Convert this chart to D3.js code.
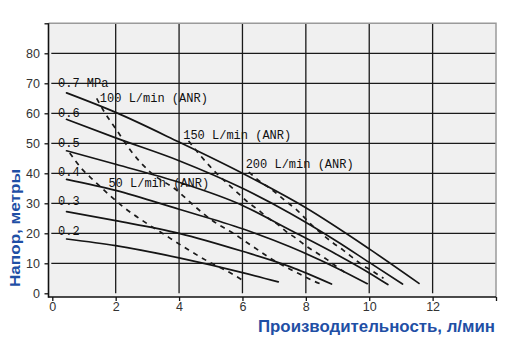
<!DOCTYPE html>
<html>
<head>
<meta charset="utf-8">
<script src="https://cdn.jsdelivr.net/npm/d3@7"></script>
<style>
  html, body { margin: 0; padding: 0; background: #fff; }
  svg { display: block; }
</style>
</head>
<body>
<svg id="chart" width="514" height="356"></svg>
<script>
// ---------- DATA ----------
const xTicks = [0, 2, 4, 6, 8, 10, 12, 14];
const yTicks = [0, 10, 20, 30, 40, 50, 60, 70, 80, 90];
const pressureLabels = ["0.7 MPa", "0.6", "0.5", "0.4", "0.3", "0.2"];
// pressure curves: [flow l/min, head m]
const p07 = [[0.45, 66.8], [2, 60.3], [4, 50.4], [6, 40], [8, 28.5], [10, 14.8], [11.57, 3.3]];
const p06 = [[0.45, 58], [2, 51.8], [4, 44.2], [6, 35], [7.5, 26.7], [9, 17.2], [10, 10.3], [11.05, 3.1]];
const p05 = [[0.45, 47.5], [2, 43], [4, 37], [6, 29.3], [7.5, 21.1], [9, 12.8], [10, 6.8], [10.59, 2.9]];
const p04 = [[0.45, 38], [2, 34.3], [4, 28], [6, 21.5], [7.5, 15.5], [9, 8.3], [9.94, 3.2]];
const p03 = [[0.45, 27.2], [2, 24.2], [4, 20], [6, 14], [7.5, 8.9], [8.81, 3.1]];
const p02 = [[0.45, 18.1], [2, 15.9], [4, 11.8], [6, 6.9], [7.13, 3.8]];
const flowLabels = ["50 L/min (ANR)", "100 L/min (ANR)", "150 L/min (ANR)", "200 L/min (ANR)"];
// air consumption curves (dashed)
const q50 = [[0.55, 46.8], [0.93, 41.5], [1.29, 37.8], [1.82, 32.6], [2.24, 28.8], [2.98, 23.3], [3.4, 20.5], [3.71, 18.4], [4.28, 14.6], [4.92, 10.6], [5.6, 6.9], [6.0, 4.4]];
const q100 = [[1.4, 65], [1.61, 61], [2.03, 54.4], [2.5, 47.2], [3.08, 40.5], [3.92, 34.4], [4.45, 29.4], [5.03, 24.4], [5.71, 20], [6.34, 15.5], [6.97, 11.1], [7.66, 7.2], [8.29, 3.9], [8.55, 2.8]];
const q150 = [[4.3, 50.8], [4.61, 46.7], [5.08, 41.1], [5.4, 37.8], [5.92, 32.8], [6.19, 30.2], [6.5, 27.8], [6.82, 25], [7.13, 22.8], [7.39, 20.5], [7.71, 18.2], [8.03, 15.6], [8.34, 13.5], [8.66, 11.3], [8.97, 8.9], [9.3, 6.5]];
const q200 = [[6.2, 40.4], [6.55, 37.3], [6.87, 35], [7.13, 32.8], [7.39, 30.5], [7.71, 27.8], [8.24, 22.2], [8.55, 19.4], [8.87, 16.7], [9.18, 14.4], [9.44, 12.2], [9.76, 9.6], [10.07, 7.6], [10.45, 5]];
const yTitle = "Напор, метры";
const xTitle = "Производительность, л/мин";

// ---------- LAYOUT ----------
const svg = d3.select("#chart");
const x = d3.scaleLinear().domain([0, 14]).range([52.3, 496]);
const y = d3.scaleLinear().domain([0, 90]).range([293.3, 23.3]);
const plotLeft = 48.5, plotRight = 496, plotTop = y(90), plotBottom = 297;

// background
svg.append("rect")
  .attr("x", plotLeft).attr("y", plotTop)
  .attr("width", plotRight - plotLeft).attr("height", plotBottom - plotTop)
  .attr("fill", "#f0f0f0");

// grid
const grid = svg.append("g").attr("stroke", "#1a1a1a").attr("stroke-width", 1.3);
yTicks.filter(v => v > 0 && v < 90).forEach(v => {
  grid.append("line").attr("x1", x(0) - 1).attr("x2", plotRight)
    .attr("y1", y(v)).attr("y2", y(v));
});
xTicks.filter(v => v > 0 && v < 14).forEach(v => {
  grid.append("line").attr("x1", x(v)).attr("x2", x(v))
    .attr("y1", plotTop).attr("y2", y(0));
});
// top & right border (gray)
svg.append("path")
  .attr("d", `M${plotLeft},${plotTop}H${plotRight}V${plotBottom}`)
  .attr("fill", "none").attr("stroke", "#9a9a9a").attr("stroke-width", 1.5);

// axes
const axisFont = "'Liberation Sans', Arial, sans-serif";
const yAxis = svg.append("g").attr("transform", `translate(${plotLeft},0)`)
  .call(d3.axisLeft(y).tickValues(yTicks).tickSize(4).tickSizeOuter(0)
    .tickFormat(d => d === 90 ? "" : d));
yAxis.select(".domain").remove();
yAxis.selectAll(".tick line").attr("stroke", "#111").attr("stroke-width", 1.3);
yAxis.selectAll(".tick text").attr("font-family", axisFont).attr("font-size", 12.5)
  .attr("fill", "#333").attr("x", -8.5).attr("dy", "0.36em");

const xAxis = svg.append("g").attr("transform", `translate(0,${plotBottom})`)
  .call(d3.axisBottom(x).tickValues(xTicks).tickSize(4).tickSizeOuter(0)
    .tickFormat(d => d === 14 ? "" : d));
xAxis.select(".domain").remove();
xAxis.selectAll(".tick line").attr("stroke", "#111").attr("stroke-width", 1.3);
xAxis.selectAll(".tick text").attr("font-family", axisFont).attr("font-size", 12.5)
  .attr("fill", "#333").attr("y", 2.5).attr("dy", "0.95em");

svg.append("line").attr("x1", plotLeft).attr("x2", plotLeft)
  .attr("y1", plotTop).attr("y2", plotBottom + 0.8)
  .attr("stroke", "#111").attr("stroke-width", 1.6);
svg.append("line").attr("x1", plotLeft).attr("x2", plotRight)
  .attr("y1", plotBottom).attr("y2", plotBottom)
  .attr("stroke", "#111").attr("stroke-width", 1.6);

// curves
const line = d3.line().x(d => x(d[0])).y(d => y(d[1])).curve(d3.curveMonotoneX);
const solids = [p07, p06, p05, p04, p03, p02];
svg.append("g").selectAll("path").data(solids).join("path")
  .attr("d", line).attr("fill", "none").attr("stroke", "#151515")
  .attr("stroke-width", 1.7).attr("stroke-linecap", "round");
const dashes = [q50, q100, q150, q200];
svg.append("g").selectAll("path").data(dashes).join("path")
  .attr("d", line).attr("fill", "none").attr("stroke", "#1a1a1a")
  .attr("stroke-width", 1.7).attr("stroke-dasharray", "5,5");

// labels
const monoFont = "'Liberation Mono', 'DejaVu Sans Mono', monospace";
const pressureLabelPos = [[0.18, 68.8], [0.18, 58.8], [0.18, 48.8], [0.18, 39.1], [0.18, 29.3], [0.18, 19.3]];
svg.append("g").selectAll("text").data(pressureLabels).join("text")
  .attr("x", (d, i) => x(pressureLabelPos[i][0]))
  .attr("y", (d, i) => y(pressureLabelPos[i][1]))
  .attr("font-family", monoFont).attr("font-size", 12).attr("fill", "#111")
  .text(d => d);
const flowLabelPos = [[1.77, 35.4], [1.5, 63.8], [4.13, 51.4], [6.1, 41.8]];
svg.append("g").selectAll("text").data(flowLabels).join("text")
  .attr("x", (d, i) => x(flowLabelPos[i][0]))
  .attr("y", (d, i) => y(flowLabelPos[i][1]))
  .attr("font-family", monoFont).attr("font-size", 12).attr("fill", "#111")
  .text(d => d);

// axis titles
const titleFont = "'Liberation Sans', Arial, sans-serif";
svg.append("text")
  .attr("transform", "translate(20,228) rotate(-90)")
  .attr("text-anchor", "middle")
  .attr("font-family", titleFont).attr("font-weight", "bold").attr("font-size", 15.5)
  .attr("fill", "#1f4fa5")
  .attr("textLength", 118).attr("lengthAdjust", "spacingAndGlyphs")
  .text(yTitle);
svg.append("text")
  .attr("x", 258).attr("y", 331.7)
  .attr("font-family", titleFont).attr("font-weight", "bold").attr("font-size", 16)
  .attr("fill", "#1f4fa5")
  .attr("textLength", 237).attr("lengthAdjust", "spacingAndGlyphs")
  .text(xTitle);
</script>
</body>
</html>
